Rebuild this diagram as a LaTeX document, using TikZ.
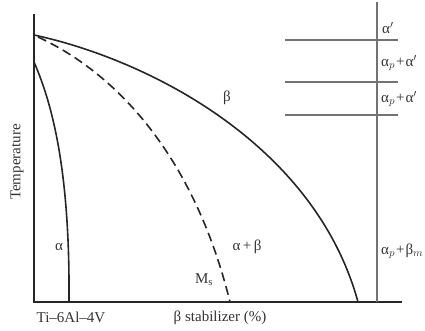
\documentclass[tikz,border=0pt]{standalone}
\usepackage{fontspec}
\setmainfont{Liberation Serif}
\begin{document}
\begin{tikzpicture}[x=1pt,y=-1pt,
  axis/.style={line width=1.4pt,black!85},
  curve/.style={line width=1.6pt,black!85},
  dcurve/.style={line width=1.6pt,black!85,dash pattern=on 9pt off 5pt},
  rline/.style={line width=1.1pt,black!55},
  lbl/.style={inner sep=0pt,font=\fontsize{15}{17}\selectfont,text=black!80},
  axlbl/.style={inner sep=0pt,font=\fontsize{15}{17}\selectfont,text=black!80}]
\useasboundingbox (0,0) rectangle (425,330);
% axes
\coordinate (ytop) at (34,14);
\coordinate (o) at (34,302);
\coordinate (xend) at (402,302);
\coordinate (rtop) at (377,2);
\coordinate (rbot) at (377,302);
\draw[axis] (ytop) -- (o) -- (xend);
\draw[rline] (rtop) -- (rbot);
% right horizontal lines
\coordinate (h1a) at (285,40); \coordinate (h1b) at (398,40);
\coordinate (h2a) at (285,82); \coordinate (h2b) at (398,82);
\coordinate (h3a) at (285,115); \coordinate (h3b) at (398,115);
\draw[rline] (h1a) -- (h1b);
\draw[rline] (h2a) -- (h2b);
\draw[rline] (h3a) -- (h3b);
% curves
\coordinate (bt) at (34,35);
\coordinate (be) at (358,302);
\draw[curve] (bt) .. controls (150,60) and (315,145) .. (be);
\coordinate (dt) at (38,37);
\coordinate (de) at (230,302);
\draw[dcurve] (dt) .. controls (120,75) and (195,160) .. (de);
\coordinate (at) at (34,62);
\coordinate (ae) at (69,302);
\draw[curve] (at) .. controls (55,110) and (70,180) .. (ae);
% labels
\node[lbl,anchor=west] (l1) at (382,28) {α$'$};
\node[lbl,anchor=west] (l2) at (381,63) {α$_p$\kern1pt+\kern1ptα$'$};
\node[lbl,anchor=west] (l3) at (381,99) {α$_p$\kern1pt+\kern1ptα$'$};
\node[lbl,anchor=west] (l4) at (381,251) {α$_p$\kern1pt+\kern1ptβ$_m$};
\node[lbl] (lb) at (227,98) {β};
\node[lbl] (la) at (59,247) {α};
\node[lbl] (lab) at (247,247) {α\,+\,β};
\node[lbl] (lm) at (204,280) {M\textsubscript{s}};
\node[axlbl] (ti) at (71,317) {Ti–6Al–4V};
\node[axlbl] (bs) at (220,318) {β stabilizer (\%)};
\node[axlbl,rotate=90] (temp) at (17,162) {Temperature};
\end{tikzpicture}
\end{document}
